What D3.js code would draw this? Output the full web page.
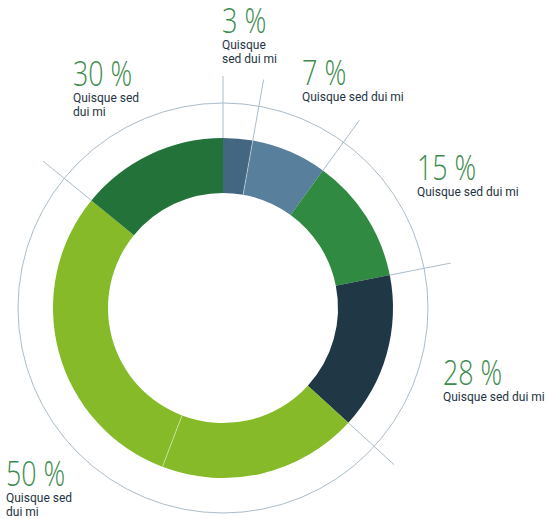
<!DOCTYPE html>
<html>
<head>
<meta charset="utf-8">
<script src="https://cdn.jsdelivr.net/npm/d3@7"></script>
<style>
  body { margin: 0; background: #fff; }
  .big { font-family: "Open Sans", sans-serif; font-weight: 300; fill: #3d8b4e; }
  .sub { font-family: "Roboto", sans-serif; font-weight: 400; fill: #1f3443; }
  .rule { stroke: #a9bdcb; stroke-width: 1; fill: none; }
</style>
</head>
<body>
<div class="container"></div>
<script>
const WIDTH = 547;
const HEIGHT = 519;
const CX = 223, CY = 308;

// slice shares of the ring (percent of the full circle)
var shares = [2.8, 7.2, 11.9, 14.9, 19.0, 30.1, 14.1];
var colors = ['#436781', '#587f9b', '#318a42', '#203746', '#86ba28', '#86ba28', '#23723a'];
// which slice boundaries get an outer tick line
var tickAfter = [true, true, true, true, false, true, true];

// labels
var percents = ['3 %', '7 %', '15 %', '28 %', '50 %', '30 %'];
var subLines = [
  ['Quisque', 'sed dui mi'],
  ['Quisque sed dui mi'],
  ['Quisque sed dui mi'],
  ['Quisque sed dui mi'],
  ['Quisque sed', 'dui mi'],
  ['Quisque sed', 'dui mi']
];
var labelPos = [[222, 33], [302, 85], [417, 180], [443, 385], [6, 486], [73, 86]];

var translate = function(x, y){
  return "translate(" + x + "," + y + ")";
};

var svg = d3.select('.container').append('svg')
  .attr('width', WIDTH)
  .attr('height', HEIGHT);

var g = svg.append('g').attr('transform', translate(CX, CY));

// thin outer ring
g.append('circle').attr('class', 'rule').attr('r', 205);

var pie = d3.pie().sort(null).value(function(d){ return d; });
var arcs = pie(shares);
var arc = d3.arc().innerRadius(115).outerRadius(170);

g.selectAll('path.slice')
  .data(arcs)
  .enter().append('path')
  .attr('class', 'slice')
  .attr('d', arc)
  .attr('fill', function(d, i){ return colors[i]; });

// faint separators inside the ring
var faint = [0, 4];
g.selectAll('line.faint')
  .data(faint)
  .enter().append('line')
  .attr('x1', function(i){ return 115 * Math.sin(arcs[i].endAngle); })
  .attr('y1', function(i){ return -115 * Math.cos(arcs[i].endAngle); })
  .attr('x2', function(i){ return 170 * Math.sin(arcs[i].endAngle); })
  .attr('y2', function(i){ return -170 * Math.cos(arcs[i].endAngle); })
  .attr('stroke', '#ffffff')
  .attr('stroke-opacity', 0.45)
  .attr('stroke-width', 1);

// outer tick lines at slice boundaries
var bounds = [0].concat(arcs.filter(function(d, i){ return tickAfter[i] && i < arcs.length - 1; })
  .map(function(d){ return d.endAngle; }));
g.selectAll('line.tick')
  .data(bounds)
  .enter().append('line')
  .attr('class', 'rule')
  .attr('x1', function(a){ return 170 * Math.sin(a); })
  .attr('y1', function(a){ return -170 * Math.cos(a); })
  .attr('x2', function(a){ return 232 * Math.sin(a); })
  .attr('y2', function(a){ return -232 * Math.cos(a); });

// labels
var lab = svg.selectAll('g.label')
  .data(percents)
  .enter().append('g')
  .attr('class', 'label')
  .attr('transform', function(d, i){ return translate(labelPos[i][0], labelPos[i][1]); });

lab.append('text')
  .attr('class', 'big')
  .attr('font-size', 34)
  .attr('textLength', function(d){ return d.length * 14.8; })
  .attr('lengthAdjust', 'spacingAndGlyphs')
  .text(function(d){ return d; });

lab.each(function(d, i){
  var t = d3.select(this);
  subLines[i].forEach(function(s, j){
    t.append('text')
      .attr('class', 'sub')
      .attr('font-size', 12)
      .attr('y', 16 + j * 14)
      .text(s);
  });
});
</script>
</body>
</html>
